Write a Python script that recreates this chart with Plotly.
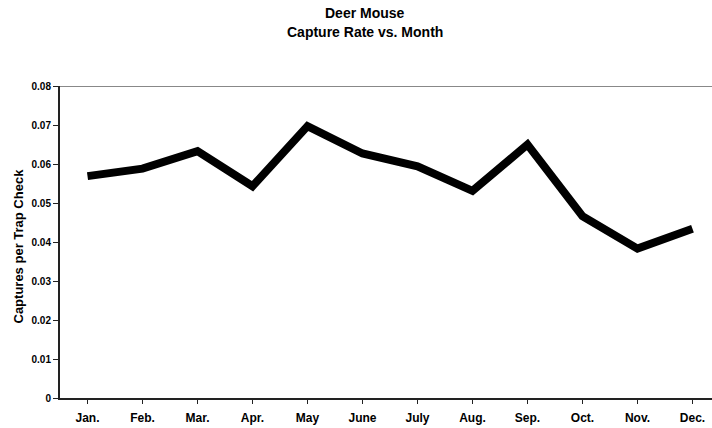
import plotly.graph_objects as go

months = ["Jan.", "Feb.", "Mar.", "Apr.", "May", "June", "July", "Aug.", "Sep.", "Oct.", "Nov.", "Dec."]
capture_rate = [0.0569, 0.0588, 0.0633, 0.0543, 0.0697, 0.0627, 0.0594, 0.0531, 0.0650, 0.0466, 0.0383, 0.0434]
y_ticks = [0, 0.01, 0.02, 0.03, 0.04, 0.05, 0.06, 0.07, 0.08]
y_ticktext = ["0", "0.01", "0.02", "0.03", "0.04", "0.05", "0.06", "0.07", "0.08"]
title_lines = ["Deer Mouse", "Capture Rate vs. Month"]
y_title = "Captures per Trap Check"

FONT = "Liberation Sans, Arial, sans-serif"
W, H = 712, 428
ML, MR, MT, MB = 60, 0, 86, 30
PW, PH = W - ML - MR, H - MT - MB


def px_x(px):
    return (px - ML) / PW


def px_y(py):
    return 1 - (py - MT) / PH


fig = go.Figure()
fig.add_trace(go.Scatter(
    x=list(range(len(months))), y=capture_rate, mode="lines",
    line=dict(color="#000000", width=8, shape="linear"),
    hoverinfo="skip", showlegend=False,
))

fig.update_layout(
    width=W, height=H,
    margin=dict(l=ML, r=MR, t=MT, b=MB),
    paper_bgcolor="white", plot_bgcolor="white",
    font=dict(family=FONT, color="#000000"),
    xaxis=dict(
        range=[-0.5, 11.355],
        tickmode="array",
        tickvals=list(range(len(months))),
        ticktext=["<b>%s</b>" % m for m in months],
        showgrid=False, zeroline=False,
        showline=True, linecolor="#222222", linewidth=2,
        ticks="outside", ticklen=4, tickwidth=1, tickcolor="#222222",
        tickson="boundaries",
        tickfont=dict(family=FONT, size=12, color="#000000"),
        ticklabelstandoff=4,
    ),
    yaxis=dict(
        range=[0, 0.08],
        tickmode="array", tickvals=y_ticks,
        ticktext=["<b>%s</b>" % t for t in y_ticktext],
        showgrid=False, zeroline=False,
        showline=True, linecolor="#222222", linewidth=2,
        ticks="outside", ticklen=5, tickwidth=1, tickcolor="#222222",
        tickfont=dict(family=FONT, size=10, color="#000000"),
    ),
)

fig.add_shape(type="line", xref="paper", yref="y", x0=0, x1=1, y0=0.08, y1=0.08,
              line=dict(color="#888888", width=2))

for text, cy in zip(title_lines, [13.5, 32.5]):
    fig.add_annotation(text="<b>%s</b>" % text, xref="paper", yref="paper",
                       x=px_x(365), y=px_y(cy), xanchor="center", yanchor="middle",
                       showarrow=False, font=dict(family=FONT, size=14, color="#000000"))

fig.add_annotation(text="<b>%s</b>" % y_title, xref="paper", yref="paper",
                   x=px_x(18), y=px_y(246.5), xanchor="center", yanchor="middle",
                   textangle=-90, showarrow=False,
                   font=dict(family=FONT, size=13, color="#000000"))

fig.write_html("out.html", config={"displayModeBar": False},
               post_script="document.body.style.margin='0';document.body.style.overflow='hidden';")
